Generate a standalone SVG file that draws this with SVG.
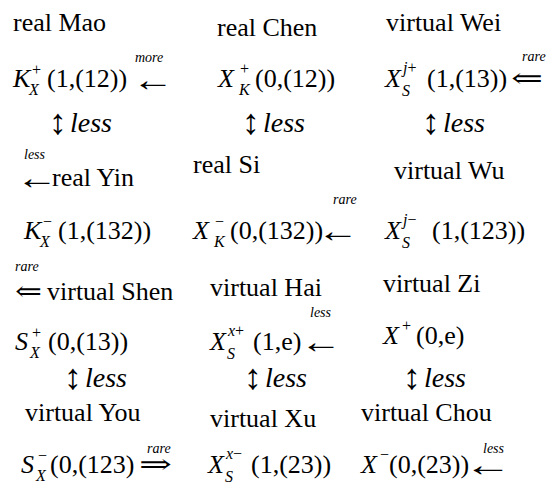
<svg xmlns="http://www.w3.org/2000/svg" width="546" height="486" viewBox="0 0 546 486">
<style>
text{font-family:"Liberation Serif","Times New Roman",serif;fill:#000}
.l{font-size:26px}
.m{font-size:26px}
.i{font-style:italic}
.sc{font-size:16px}
.tn{font-size:14px;font-style:italic}
.ar{font-size:34px;font-family:"Liberation Serif","DejaVu Serif",serif}
.ar2{font-size:26px;font-family:"DejaVu Serif","Liberation Serif",serif}
.lv{font-size:28px;font-style:italic}
.ud{font-size:36px;font-family:"Liberation Serif","DejaVu Serif",serif}
</style>
<rect width="546" height="486" fill="#fff"/>
<g id="mao">
<text class="l" x="13" y="31">real Mao</text>
<text class="m i" x="13" y="87">K</text><text class="sc" x="32" y="75">+</text><text class="sc i" x="29" y="95">X</text>
<text class="m" x="47" y="87">(1,(12))</text>
<text class="ar" x="132" y="91" textLength="42" lengthAdjust="spacingAndGlyphs">←</text><text class="tn" x="135" y="62">more</text>
</g>
<g id="chen">
<text class="l" x="217" y="36">real Chen</text>
<text class="m i" x="218" y="87">X</text><text class="sc" x="240" y="74">+</text><text class="sc i" x="239" y="95">K</text>
<text class="m" x="255" y="87">(0,(12))</text>
</g>
<g id="wei">
<text class="l" x="386" y="31">virtual Wei</text>
<text class="m i" x="385" y="87">X</text><text class="sc" x="403" y="73"><tspan class="i">j</tspan>+</text><text class="sc i" x="402" y="96">S</text>
<text class="m" x="427" y="87">(1,(13))</text>
<text class="ar2" x="511" y="87" textLength="32" lengthAdjust="spacingAndGlyphs">⇐</text><text class="tn" x="522" y="61">rare</text>
</g>
<g id="mao-less"><text class="ud" x="49" y="134">↕</text><text class="lv" x="70" y="132">less</text></g>
<g id="chen-less"><text class="ud" x="242" y="134">↕</text><text class="lv" x="263" y="132">less</text></g>
<g id="wei-less"><text class="ud" x="422" y="134">↕</text><text class="lv" x="443" y="132">less</text></g>
<g id="yin">
<text class="tn" x="24" y="159">less</text>
<text class="ar" x="16" y="189" textLength="42" lengthAdjust="spacingAndGlyphs">←</text>
<text class="l" x="52" y="186">real Yin</text>
<text class="m i" x="24" y="239">K</text><text class="sc" x="43" y="227">−</text><text class="sc i" x="40" y="247">X</text>
<text class="m" x="58" y="239">(1,(132))</text>
</g>
<g id="si">
<text class="l" x="193" y="173">real Si</text>
<text class="m i" x="193" y="239">X</text><text class="sc" x="215" y="227">−</text><text class="sc i" x="214" y="247">K</text>
<text class="m" x="230" y="239">(0,(132))</text>
<text class="ar" x="317" y="242" textLength="42" lengthAdjust="spacingAndGlyphs">←</text><text class="tn" x="333" y="204">rare</text>
</g>
<g id="wu">
<text class="l" x="394" y="179">virtual Wu</text>
<text class="m i" x="385" y="239">X</text><text class="sc" x="403" y="225"><tspan class="i">j</tspan>−</text><text class="sc i" x="402" y="248">S</text>
<text class="m" x="432" y="239">(1,(123))</text>
</g>
<g id="shen">
<text class="tn" x="15" y="271">rare</text>
<text class="ar2" x="15" y="300" textLength="27" lengthAdjust="spacingAndGlyphs">⇐</text>
<text class="l" x="47" y="300">virtual Shen</text>
<text class="m i" x="15" y="350">S</text><text class="sc" x="32" y="338">+</text><text class="sc i" x="30" y="358">X</text>
<text class="m" x="48" y="350">(0,(13))</text>
</g>
<g id="hai">
<text class="l" x="210" y="296">virtual Hai</text>
<text class="m i" x="210" y="350">X</text><text class="sc" x="228" y="336"><tspan class="i">x</tspan>+</text><text class="sc i" x="227" y="359">S</text>
<text class="m" x="253" y="350">(1,e)</text>
<text class="ar" x="300" y="353" textLength="42" lengthAdjust="spacingAndGlyphs">←</text><text class="tn" x="310" y="317">less</text>
</g>
<g id="zi">
<text class="l" x="383" y="292">virtual Zi</text>
<text class="m i" x="383" y="344">X</text><text class="sc" x="402" y="331">+</text>
<text class="m" x="416" y="344">(0,e)</text>
</g>
<g id="shen-less"><text class="ud" x="64" y="389">↕</text><text class="lv" x="85" y="387">less</text></g>
<g id="hai-less"><text class="ud" x="244" y="389">↕</text><text class="lv" x="265" y="387">less</text></g>
<g id="zi-less"><text class="ud" x="403" y="389">↕</text><text class="lv" x="424" y="387">less</text></g>
<g id="you">
<text class="l" x="25" y="421">virtual You</text>
<text class="m i" x="21" y="473">S</text><text class="sc" x="38" y="461">−</text><text class="sc i" x="36" y="481">X</text>
<text class="m" x="50" y="473">(0,(123)</text>
<text class="ar2" x="139" y="473" textLength="33" lengthAdjust="spacingAndGlyphs">⇒</text><text class="tn" x="147" y="453">rare</text>
</g>
<g id="xu">
<text class="l" x="210" y="427">virtual Xu</text>
<text class="m i" x="208" y="473">X</text><text class="sc" x="226" y="459"><tspan class="i">x</tspan>−</text><text class="sc i" x="225" y="482">S</text>
<text class="m" x="251" y="473">(1,(23))</text>
</g>
<g id="chou">
<text class="l" x="361" y="421">virtual Chou</text>
<text class="m i" x="361" y="473">X</text><text class="sc" x="380" y="460">−</text>
<text class="m" x="389" y="473">(0,(23))</text>
<text class="ar" x="464" y="476" textLength="48" lengthAdjust="spacingAndGlyphs">←</text><text class="tn" x="483" y="453">less</text>
</g>
<g id="connectors"></g>
</svg>
